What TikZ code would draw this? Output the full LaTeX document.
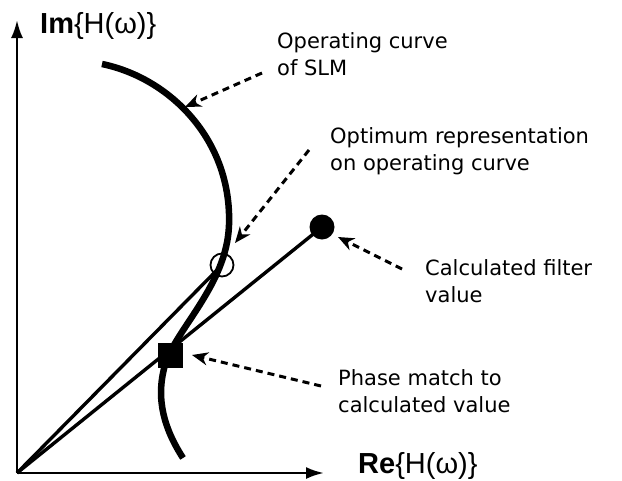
\documentclass[tikz,border=0pt]{standalone}
\usepackage{fontspec}
\setmainfont{DejaVu Sans}
\newfontfamily\axisfont{Liberation Sans}
\usetikzlibrary{arrows.meta}
\begin{document}
\begin{tikzpicture}[x=1pt,y=-1pt,
  axis/.style={line width=2.6pt,-{Latex[length=18pt,width=12pt]}},
  ray/.style={line width=3.4pt},
  opcurve/.style={line width=6.5pt},
  callout/.style={line width=3pt,dash pattern=on 7pt off 5pt,-{Stealth[length=16pt,width=13pt,inset=5pt]}},
  lbl/.style={font=\fontsize{21}{27}\selectfont,align=left,anchor=west,inner sep=0pt},
  axlbl/.style={font=\axisfont\fontsize{29}{30}\selectfont,anchor=base west,inner sep=0pt}]
\useasboundingbox (0,0) rectangle (622,480);
\fill[white] (0,0) rectangle (622,480);
% axes
\coordinate (O) at (17,473);
\coordinate (ytip) at (17,20);
\coordinate (xtip) at (324,473);
\draw[axis] (O) -- (ytip);
\draw[axis] (O) -- (xtip);
\node[axlbl] (im) at (40,33) {\textbf{Im}\{H(ω)\}};
\node[axlbl] (re) at (358,473) {\textbf{Re}\{H(ω)\}};
% points
\coordinate (dotc) at (322,227);
\coordinate (circc) at (222,265);
\coordinate (sqc) at (170,355);
% rays
\draw[ray] (O) -- (dotc);
\draw[ray] (O) -- (circc);
% operating curve
\draw[opcurve] (102,64) .. controls (170,78) and (232,140) .. (229,225)
  .. controls (227,285) and (175,330) .. (165,365)
  .. controls (155,400) and (165,430) .. (183,458);
% markers
\node[circle,fill=black,minimum size=25pt,inner sep=0pt] (dot) at (dotc) {};
\node[circle,draw=black,line width=1.8pt,minimum size=23pt,inner sep=0pt] (opt) at (circc) {};
\node[rectangle,fill=black,minimum size=25pt,inner sep=0pt] (sq) at (sqc) {};
% labels
\node[lbl] (l1) at (277,54) {Operating curve\\of SLM};
\node[lbl] (l2) at (330,151) {Optimum representation\\on operating curve};
\node[lbl] (l3) at (425,281) {Calculated filter\\value};
\node[lbl] (l4) at (338,391) {Phase match to\\calculated value};
% callouts
\coordinate (a1s) at (262,73);  \coordinate (a1e) at (185,107);
\coordinate (a2s) at (309,150); \coordinate (a2e) at (235,243);
\coordinate (a3s) at (402,269); \coordinate (a3e) at (338,237);
\coordinate (a4s) at (321,386); \coordinate (a4e) at (192,355);
\draw[callout] (a1s) -- (a1e);
\draw[callout] (a2s) -- (a2e);
\draw[callout] (a3s) -- (a3e);
\draw[callout] (a4s) -- (a4e);
\end{tikzpicture}
\end{document}
